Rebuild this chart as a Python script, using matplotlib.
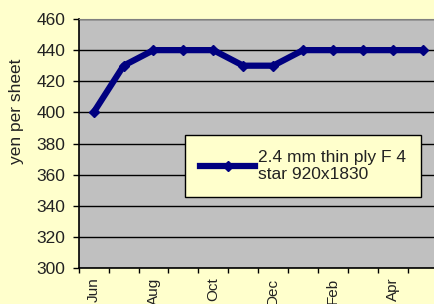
import matplotlib
matplotlib.use("Agg")
import matplotlib.pyplot as plt

months = ["Jun", "Jul", "Aug", "Sep", "Oct", "Nov", "Dec", "Jan", "Feb", "Mar", "Apr", "May"]
prices = [400, 430, 440, 440, 440, 430, 430, 440, 440, 440, 440, 440]
series_name = "2.4 mm thin ply F 4\nstar 920x1830"
yticks = [300, 320, 340, 360, 380, 400, 420, 440, 460]

plt.rcParams['font.family'] = ['Liberation Sans', 'DejaVu Sans']
FS = 12.5

fig = plt.figure(figsize=(4.35, 3.04), dpi=100, facecolor='#FFFFCC')
ax = fig.add_axes([78.7/435, 1 - 268/304, 359/435, (268-19)/304])
ax.set_facecolor('#C0C0C0')

x = list(range(len(months)))
ax.plot(x, prices, color='#000080', linewidth=4.5, marker='D', markersize=5,
        label=series_name)

ax.set_xlim(-0.5, len(months) - 0.5)
ax.set_ylim(300, 460)
ax.set_yticks(yticks)
ax.yaxis.grid(True, color='black', linewidth=1)
ax.set_axisbelow(True)

ax.set_xticks([i - 0.5 for i in range(len(months))] + [len(months) - 0.5])
ax.set_xticklabels([])
ax.set_xticks(x[::2], minor=True)
ax.set_xticklabels(months[::2], minor=True, rotation=90, fontsize=11, color='#222222')
ax.tick_params(axis='x', which='minor', length=0, pad=7)
ax.tick_params(axis='x', which='major', length=3.5, direction='out', width=1)
ax.tick_params(axis='y', length=4.5, direction='out', width=1, labelsize=FS, pad=5,
               labelcolor='#222222')

for s in ['left', 'bottom']:
    ax.spines[s].set_color('black')
    ax.spines[s].set_linewidth(1.2)
ax.spines['top'].set_color('#808080')
ax.spines['right'].set_visible(False)

ax.set_ylabel("yen per sheet", fontsize=FS, color='#222222')
ax.yaxis.set_label_coords((24 - 78.7) / 359, (268 - 111.5) / 249)

leg = ax.legend(loc='upper left', bbox_to_anchor=((185-78.7)/359, 1 - (135-19)/249),
                fontsize=FS, frameon=True, fancybox=False, handlelength=3.2,
                handletextpad=0.15, borderpad=0.85, labelspacing=0.2, borderaxespad=0)
leg.get_frame().set_facecolor('#FFFFCC')
leg.get_frame().set_edgecolor('black')
leg.get_frame().set_linewidth(1)
leg.get_frame().set_alpha(1)
for t in leg.get_texts():
    t.set_color('#222222')

fig.savefig("out.png", dpi=100, facecolor=fig.get_facecolor())
